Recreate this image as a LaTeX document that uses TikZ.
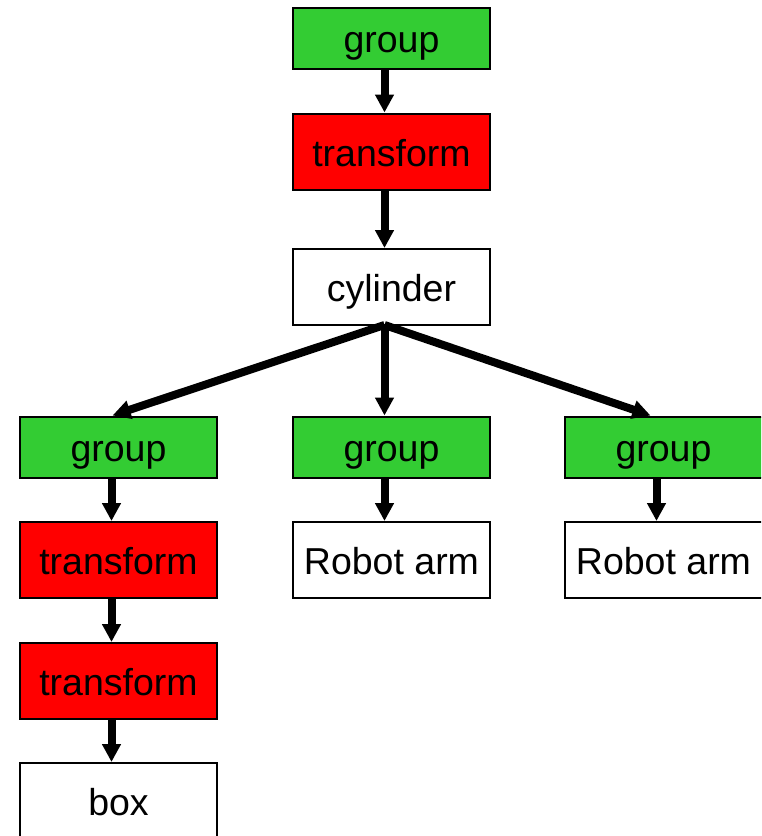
\documentclass[tikz,border=0pt]{standalone}
\usepackage{fontspec}
\setmainfont{Liberation Sans}
\usetikzlibrary{arrows.meta}
\definecolor{grpgreen}{RGB}{51,204,51}
\definecolor{xfred}{RGB}{255,0,0}
\begin{document}
\begin{tikzpicture}[x=1pt,y=-1pt,
  base/.style={draw=black, line width=2pt, minimum width=197pt, inner sep=0pt,
    text height=29pt, text depth=0pt, font=\fontsize{37.5}{40}\selectfont},
  grp/.style={base, fill=grpgreen, minimum height=61pt},
  xform/.style={base, fill=xfred, minimum height=76pt},
  leaf/.style={base, fill=white, minimum height=76pt},
  wide/.style={minimum width=201pt},
  arr/.style={line width=8pt, -{Triangle[width=18pt,length=18pt]}}]
\useasboundingbox (0,0) rectangle (761,836);
\begin{scope}
\clip (0,0) rectangle (761,836);
% main chain
\node[grp]   (g1)  at (391.5,38)    {group};
\node[xform] (t1)  at (391.5,151.5) {transform};
\node[leaf]  (cyl) at (391.5,287)   {cylinder};
% three groups under the cylinder
\node[grp]   (gL)  at (118.5,447)   {group};
\node[grp]   (gM)  at (391.5,447)   {group};
\node[grp,wide]  (gR) at (665.5,447) {\hspace*{-4pt}group};
% children
\node[xform] (tL)  at (118.5,560)   {transform};
\node[leaf]  (rM)  at (391.5,560)   {Robot arm};
\node[leaf,wide] (rR) at (665.5,560) {\hspace*{-4pt}Robot arm};
\node[xform] (tL2) at (118.5,681)   {transform};
\node[leaf]  (bx)  at (118.5,801)   {box};
% connectors
\draw[arr] ([xshift=-7pt]g1.south)  -- ([xshift=-7pt]t1.north);
\draw[arr] ([xshift=-7pt]t1.south)  -- ([xshift=-7pt]cyl.north);
\coordinate (apex) at ([xshift=-7pt,yshift=1pt]cyl.south);
\draw[arr] (apex) -- ([xshift=-6pt]gL.north);
\draw[arr] (apex) -- ([xshift=-7pt]gM.north);
\draw[arr] (apex) -- ([xshift=-15pt]gR.north);
\draw[arr] ([xshift=-7pt]gL.south)  -- ([xshift=-7pt]tL.north);
\draw[arr] ([xshift=-7pt]tL.south)  -- ([xshift=-7pt]tL2.north);
\draw[arr] ([xshift=-7pt]tL2.south) -- ([xshift=-7pt]bx.north);
\draw[arr] ([xshift=-7pt]gM.south)  -- ([xshift=-7pt]rM.north);
\draw[arr] ([xshift=-9pt]gR.south)  -- ([xshift=-9pt]rR.north);
\end{scope}
\end{tikzpicture}
\end{document}
